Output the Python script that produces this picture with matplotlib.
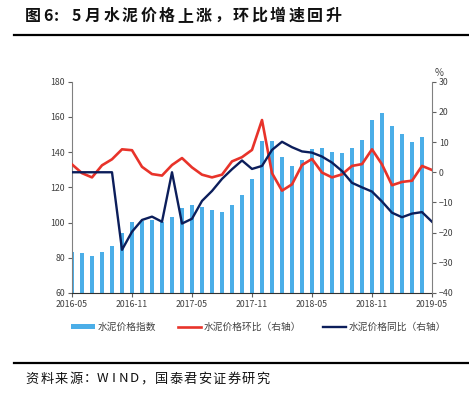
import numpy as np
import pandas as pd
import matplotlib
matplotlib.use('Agg')
import matplotlib.pyplot as plt

plt.rcParams['font.family'] = ['Noto Sans CJK SC', 'DejaVu Sans']

# monthly data, 2016-05 to 2019-05 (index has no 2019-05 value shown)
months = pd.date_range('2016-05-01', periods=37, freq='MS').strftime('%Y-%m').tolist()

price_idx = [83.1, 82.7, 81.2, 83.1, 86.9, 93.9, 100.3, 101.1,
             101.5, 100.2, 103.0, 108.1, 109.8, 108.8, 107.0, 106.2, 109.8, 115.7, 124.6, 146.3,
             146.3, 137.4, 132.3, 135.5, 142.0, 142.5, 140.1, 139.3, 142.5, 146.7, 158.3, 162.2,
             155.0, 150.1, 145.8, 148.6]
mom = [2.6, -0.3, -1.7, 2.3, 4.3, 7.6, 7.3, 1.8,
       -0.6, -1.1, 2.4, 4.7, 1.6, -0.8, -1.7, -0.8, 3.6, 5.0, 7.4, 17.3,
       -0.3, -6.1, -4.0, 2.4, 4.4, -0.1, -1.7, -0.7, 2.1, 2.7, 7.6, 2.6,
       -4.3, -3.2, -2.8, 2.1, 0.75]
yoy = [0, 0, 0, 0, 0, -25.7, -19.7, -15.8,
       -14.7, -16.4, 0, -17.0, -15.4, -9.5, -6.2, -2.2, 1.0, 3.9, 1.1, 2.1,
       7.4, 10.1, 8.3, 6.9, 6.5, 5.2, 3.2, 0.4, -3.5, -5.0, -6.4, -9.7,
       -13.4, -14.9, -13.7, -13.2, -16.4]

title_head = ['图', '6', ':', '5']
title_rest = '月水泥价格上涨，环比增速回升'
source_txt = '资料来源：WIND，国泰君安证券研究'

x = np.arange(len(months))
tick_pos = x[::6]
tick_lab = [months[i] for i in tick_pos]

c_bar = '#4BAEE8'
c_red = '#E8332A'
c_navy = '#0C1E5B'
c_txt = '#404040'

W, H = 469, 397
fig = plt.figure(figsize=(W/100, H/100), dpi=100)
ax = fig.add_axes([72/W, 1-293/H, 360/W, 211.3/H])
ax2 = ax.twinx()

ax.bar(x[:len(price_idx)], price_idx, width=0.45, color=c_bar, label='水泥价格指数', zorder=1)
ax2.plot(x, mom, color=c_red, lw=1.9, label='水泥价格环比（右轴）')
ax2.plot(x, yoy, color=c_navy, lw=1.7, label='水泥价格同比（右轴）')

ax.set_xlim(0, 36)
ax.set_ylim(60, 180)
ax.set_yticks(np.arange(60, 181, 20))
ax2.set_ylim(-40, 30)
ax2.set_yticks(np.arange(-40, 31, 10))
ax.set_xticks(tick_pos)
ax.set_xticklabels(tick_lab)

for a in (ax, ax2):
    a.spines['top'].set_visible(False)
    a.tick_params(labelsize=6.3, colors='#606060', labelcolor=c_txt, length=3, width=0.8, pad=2)
    for s in a.spines.values():
        s.set_linewidth(0.8)
ax.spines['left'].set_color('#808080')
ax.spines['right'].set_visible(False)
ax2.spines['right'].set_color('#808080')
ax2.spines['left'].set_visible(False)
ax.spines['bottom'].set_color('#303030')
ax2.spines['bottom'].set_visible(False)

fig.text(439/W, 1-73/H, '%', fontsize=7, color=c_txt, ha='center', va='center')

# legend below the plot
h1, l1 = ax.get_legend_handles_labels()
h2, l2 = ax2.get_legend_handles_labels()
fig.legend(h1 + h2, l1 + l2, loc='center', bbox_to_anchor=(259/W, 1-327/H), ncol=3,
           frameon=False, fontsize=7, handlelength=2.4, handleheight=0.5, columnspacing=2.2,
           handletextpad=0.3, labelcolor=c_txt)

# title, drawn char by char for the wide letter spacing
for ch, cx in zip(title_head, [33, 48, 56, 76]):
    fig.text(cx/W, 1-16/H, ch, fontsize=11.5, fontweight='bold', ha='center', va='center', color='#111111')
for i, ch in enumerate(title_rest):
    fig.text((93 + i*18.5)/W, 1-16/H, ch, fontsize=11.5, fontweight='bold',
             ha='center', va='center', color='#111111')

fig.add_artist(plt.Line2D([14/W, 1], [1-34.5/H, 1-34.5/H], color='black', lw=1.6))
fig.add_artist(plt.Line2D([14/W, 1], [1-362.5/H, 1-362.5/H], color='black', lw=1.6))

# source line, same idea
px = 25
for ch in source_txt:
    w = 10.5 if ch.isascii() else 14.5
    fig.text((px + w/2)/W, 1-379/H, ch, fontsize=9.5, ha='center', va='center', color='#111111')
    px += w

fig.savefig('out.png', dpi=100)
